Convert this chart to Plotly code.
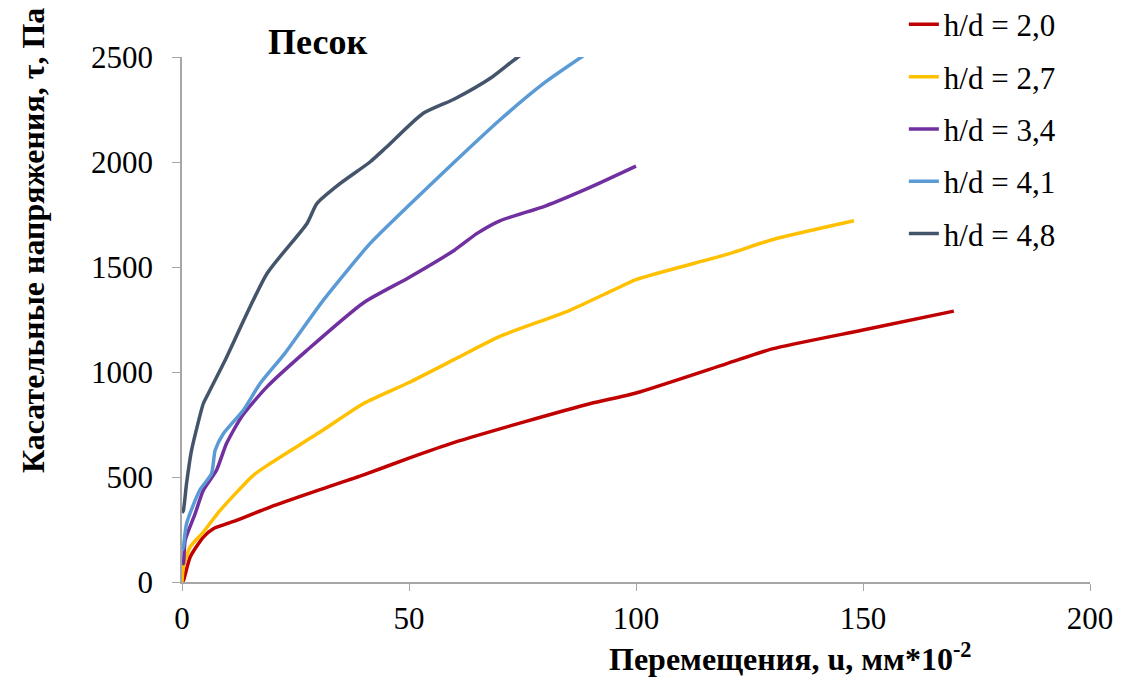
import plotly.graph_objects as go

# h/d = 2,0
x_20 = [0, 0.3, 1.8, 4.7, 6.9, 12, 19.4, 30.4, 40, 50, 60, 75, 90, 100, 120, 130, 150, 170]
y_20 = [0, 7, 119, 214, 254, 293, 357, 440, 510, 590, 665, 760, 850, 900, 1040, 1110, 1200, 1290]
# h/d = 2,7
x_27 = [0, 0.3, 1.8, 4.7, 8.4, 15.7, 19.4, 30.4, 40, 50, 60, 70, 85, 95, 100, 120, 130, 148]
y_27 = [0, 71, 167, 238, 341, 508, 564, 714, 850, 950, 1060, 1170, 1290, 1390, 1440, 1560, 1630, 1720]
# h/d = 3,4
x_34 = [0, 0.3, 0.7, 2.9, 4.7, 7.6, 9.8, 13.1, 18.7, 27.5, 40, 50, 60, 65, 70, 80, 90, 100]
y_34 = [100, 87, 199, 326, 437, 532, 659, 786, 929, 1103, 1330, 1450, 1580, 1660, 1720, 1790, 1880, 1980]
# h/d = 4,1
x_41 = [0, 0.3, 1.0, 3.9, 6.5, 7.3, 9.1, 13.5, 17.2, 22.7, 31.1, 41.4, 50, 60, 70, 80, 88, 95]
y_41 = [150, 167, 278, 437, 516, 627, 706, 818, 945, 1090, 1341, 1611, 1794, 2000, 2200, 2380, 2500, 2600]
# h/d = 4,8
x_48 = [0, 0.3, 1.0, 2.1, 4.7, 5.4, 9.5, 18.7, 27.5, 29.7, 34.8, 41.4, 45, 53, 60, 68, 74, 80]
y_48 = [330, 341, 469, 627, 850, 881, 1056, 1468, 1706, 1802, 1897, 2000, 2070, 2230, 2300, 2400, 2500, 2580]

x_ticks = [0, 50, 100, 150, 200]
y_ticks = [0, 500, 1000, 1500, 2000, 2500]

series = [
    ("h/d = 2,0", x_20, y_20, "#C00000"),
    ("h/d = 2,7", x_27, y_27, "#FFC000"),
    ("h/d = 3,4", x_34, y_34, "#7030A0"),
    ("h/d = 4,1", x_41, y_41, "#5B9BD5"),
    ("h/d = 4,8", x_48, y_48, "#44546A"),
]

FONT = "Liberation Serif"

fig = go.Figure()
for i, (name, xs, ys, col) in enumerate(series):
    fig.add_trace(go.Scatter(x=xs, y=ys, mode="lines", name=name,
                             legendgroup=str(i),
                             line=dict(color=col, width=3.5, shape="spline", smoothing=0.6)))

fig.update_layout(
    width=1127, height=677,
    margin=dict(l=182, r=37, t=57, b=95, autoexpand=False),
    paper_bgcolor="white", plot_bgcolor="white",
    font=dict(family=FONT, size=31, color="black"),
    showlegend=True,
    legend=dict(x=0.795, y=1.113, xanchor="left", yanchor="top",
                font=dict(family=FONT, size=31, color="black"), tracegroupgap=9,
                bgcolor="rgba(0,0,0,0)"),
    xaxis=dict(range=[0, 200], tickvals=x_ticks,
               showline=True, linecolor="#A6A6A6", linewidth=1.5,
               ticks="outside", tickcolor="#A6A6A6", ticklen=7,
               showgrid=False, zeroline=False, ticklabelstandoff=1,
               tickfont=dict(family=FONT, size=31, color="black")),
    yaxis=dict(range=[0, 2500], tickvals=y_ticks,
               showline=True, linecolor="#A6A6A6", linewidth=1.5,
               ticks="outside", tickcolor="#A6A6A6", ticklen=8,
               showgrid=False, zeroline=False, ticklabelstandoff=13,
               tickfont=dict(family=FONT, size=31, color="black")),
    annotations=[
        dict(text="<b>Песок</b>", xref="paper", yref="paper",
             x=(317 - 182) / 908, y=1 + (57 - 42) / 525, xanchor="center", yanchor="middle",
             showarrow=False, font=dict(family=FONT, size=36)),
        dict(text="<b>Перемещения, u, мм*10<sup>-2</sup></b>", xref="paper", yref="paper",
             x=(790 - 182) / 908, y=-(657 - 582) / 525, xanchor="center", yanchor="middle",
             showarrow=False, font=dict(family=FONT, size=32)),
        dict(text="<b>Касательные напряжения, τ, Па</b>", xref="paper", yref="paper",
             x=-(182 - 33) / 908, y=(582 - 241) / 525, xanchor="center", yanchor="middle",
             textangle=-90, showarrow=False, font=dict(family=FONT, size=32)),
    ],
)

fig.write_html("out.html", config={"displayModeBar": False},
               post_script="document.body.style.margin='0';document.body.style.overflow='hidden';")
